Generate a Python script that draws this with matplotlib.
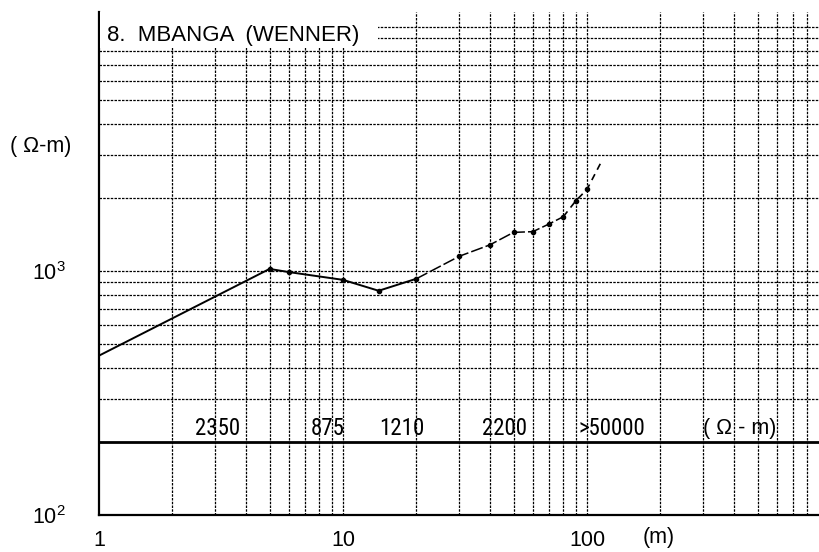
import matplotlib
matplotlib.use('Agg')
import matplotlib.pyplot as plt
from matplotlib.patches import Rectangle

plt.rcParams['font.family'] = ['Liberation Sans', 'DejaVu Sans']
plt.rcParams['mathtext.fontset'] = 'custom'
plt.rcParams['mathtext.rm'] = 'Liberation Sans'

#------------------------------------------------------------------------------
# datos (AB/2 en m, resistividad aparente en ohm-m)
ab = [1, 5, 6, 10, 14, 20]
rho = [450, 1020, 990, 920, 830, 930]
ab_mid = [20, 30, 40, 50, 60, 70, 80]
rho_mid = [930, 1150, 1280, 1440, 1450, 1560, 1670]
ab_ext = [80, 90, 100, 114]
rho_ext = [1670, 1940, 2160, 2780]

# resistividades de las capas y su posicion en x
capas = ['2350', '875', '1210', '2200', '>50000']
capas_x = [3.06, 8.64, 17.5, 46, 126]

xticks = [1, 10, 100]
xtick_labels = ['1', '10', '100']
yticks = [100, 1000]
ytick_labels = [r'$\mathregular{10^2}$', r'$\mathregular{10^3}$']

#------------------------------------------------------------------------------
fig = plt.figure(figsize=(8.19, 5.52), dpi=100)
ax = fig.add_axes([0.1209, 0.067, 0.8791, 0.911])
ax.set_xscale('log')
ax.set_yscale('log')
ax.set_xlim(1, 10**2.951)
ax.set_ylim(100, 10**4.061)

# grilla punteada
grid_kw = dict(color='black', lw=0.9, ls=(0, (2, 1)), zorder=1)
for dec in [1, 10, 100]:
    for k in range(2, 10):
        ax.axvline(k * dec, **grid_kw)
ax.axvline(10, **grid_kw)
ax.axvline(100, **grid_kw)
for dec in [100, 1000]:
    for k in range(3 if dec == 100 else 1, 10):
        ax.axhline(k * dec, **grid_kw)
ax.axhline(10000, **grid_kw)

# linea gruesa de las capas
ax.axhline(200, color='black', lw=2.0, zorder=2)

# caja blanca del titulo
ax.add_patch(Rectangle((0.002, 0.928), 0.386, 0.08, transform=ax.transAxes,
                       facecolor='white', edgecolor='none', zorder=3))
ax.text(0.011, 0.954, '8.  MBANGA  (WENNER)', transform=ax.transAxes,
        fontsize=16, va='center', ha='left', zorder=4)

# curva
ax.plot(ab, rho, color='black', lw=1.4, zorder=5)
ax.plot(ab_mid, rho_mid, color='black', lw=1.1, ls=(0, (8, 2)), zorder=5)
ax.plot(ab_ext, rho_ext, color='black', lw=1.2, ls=(0, (4, 3)), zorder=5)
ax.plot(ab[1:] + ab_mid[1:] + ab_ext[1:3], rho[1:] + rho_mid[1:] + rho_ext[1:3],
        'o', color='black', ms=3, zorder=6)

# etiquetas de las capas
for txt, xc in zip(capas, capas_x):
    ax.text(xc, 227, txt, ha='center', va='center', fontsize=16.5,
            family=['Roboto Condensed', 'DejaVu Sans'], zorder=4)
ax.text(422, 227, '( \u03a9 - m)', ha='center', va='center', fontsize=15.5,
        zorder=4)

# ejes
ax.set_xticks(xticks)
ax.set_xticklabels(xtick_labels)
ax.set_yticks(yticks)
ax.set_yticklabels(ytick_labels)
ax.minorticks_off()
ax.tick_params(axis='both', length=0, labelsize=15.5)
ax.tick_params(axis='x', pad=11)
ax.tick_params(axis='y', pad=24)
for s in ['top', 'right']:
    ax.spines[s].set_visible(False)
for s in ['left', 'bottom']:
    ax.spines[s].set_linewidth(1.6)

ax.text(196, -0.044, '(m)', transform=ax.get_xaxis_transform(), ha='center',
        va='center', fontsize=15.5)
fig.text(41 / 819, 1 - 146 / 552, '( \u03a9-m)', ha='center', va='center',
         fontsize=15.5)

fig.savefig('out.png', dpi=100)
